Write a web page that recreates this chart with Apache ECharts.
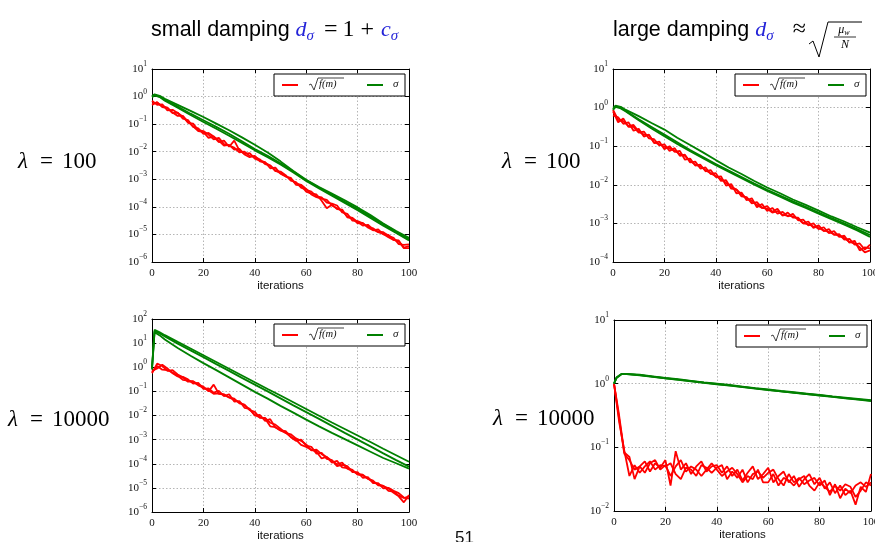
<!DOCTYPE html>
<html>
<head>
<meta charset="utf-8">
<script src="https://cdn.jsdelivr.net/npm/echarts@6/dist/echarts.min.js"></script>
<style>
  html, body { margin: 0; padding: 0; background: #fff; }
  #chart { width: 875px; height: 542px; }
</style>
</head>
<body>
<div id="chart"></div>
<script>
// Iteration numbers at which each run was sampled
const iterF = [0,2,4,6,8,10,12,14,16,18,20,22,24,26,28,30,32,34,36,38,40,42,44,46,48,50,
               52,54,56,58,60,62,64,66,68,70,72,74,76,78,80,82,84,86,88,90,92,94,96,98,100];
const iterSigma = [0,1,3,5,10,15,20,25,30,35,40,45,50,55,60,65,70,75,80,85,90,95,100];

// All values below are base-10 exponents (log10 of sqrt(f(m)) and of sigma)

// small damping, lambda = 100
const smallL100_f1 = [-0.15,-0.3,-0.28,-0.5,-0.48,-0.6,-0.72,-0.95,-0.98,-1.22,-1.25,-1.38,-1.55,-1.5,-1.72,-1.78,-1.85,-2.02,-2.0,-2.15,-2.18,-2.28,-2.45,-2.5,-2.7,-2.72,-2.85,-3.05,-3.1,-3.3,-3.38,-3.45,-3.62,-3.66,-3.85,-3.88,-3.95,-4.2,-4.25,-4.5,-4.52,-4.6,-4.72,-4.78,-4.9,-4.92,-5.05,-5.12,-5.35,-5.38,-5.36];
const smallL100_f2 = [-0.3,-0.2,-0.38,-0.42,-0.6,-0.58,-0.8,-0.85,-1.1,-1.15,-1.35,-1.32,-1.45,-1.65,-1.6,-1.82,-1.6,-1.95,-2.08,-2.05,-2.25,-2.32,-2.38,-2.6,-2.58,-2.8,-2.9,-2.95,-3.2,-3.22,-3.45,-3.52,-3.55,-3.78,-4.05,-3.92,-4.08,-4.1,-4.38,-4.42,-4.6,-4.58,-4.75,-4.85,-4.82,-5.0,-5.02,-5.2,-5.25,-5.48,-5.42];
const smallL100_f3 = [-0.25,-0.22,-0.35,-0.4,-0.58,-0.7,-0.7,-0.92,-1.08,-1.25,-1.28,-1.5,-1.45,-1.6,-1.78,-1.75,-1.92,-1.9,-2.1,-2.2,-2.15,-2.35,-2.4,-2.5,-2.68,-2.78,-2.88,-3.0,-3.15,-3.2,-3.35,-3.55,-3.65,-3.7,-3.75,-3.95,-4.05,-4.15,-4.35,-4.4,-4.55,-4.68,-4.65,-4.82,-4.92,-4.98,-5.1,-5.2,-5.22,-5.5,-5.5];
const smallL100_s1 = [0.02,0.08,0.03,-0.08,-0.3,-0.52,-0.74,-0.98,-1.22,-1.48,-1.75,-2.03,-2.35,-2.7,-3.02,-3.28,-3.52,-3.76,-4.02,-4.3,-4.6,-4.88,-5.12];
const smallL100_s2 = [0.0,0.05,0.0,-0.12,-0.36,-0.62,-0.86,-1.1,-1.35,-1.62,-1.9,-2.15,-2.42,-2.72,-3.04,-3.3,-3.56,-3.82,-4.08,-4.35,-4.62,-4.9,-5.18];
const smallL100_s3 = [-0.02,0.04,-0.02,-0.15,-0.4,-0.67,-0.92,-1.17,-1.42,-1.68,-1.95,-2.2,-2.46,-2.75,-3.06,-3.33,-3.6,-3.86,-4.12,-4.4,-4.68,-4.95,-5.22];

// large damping, lambda = 100
const largeL100_f1 = [-0.1,-0.38,-0.28,-0.5,-0.5,-0.65,-0.62,-0.8,-0.82,-0.98,-0.95,-1.12,-1.05,-1.25,-1.22,-1.42,-1.4,-1.58,-1.55,-1.72,-1.7,-1.9,-1.88,-2.1,-2.12,-2.3,-2.32,-2.48,-2.45,-2.6,-2.55,-2.7,-2.62,-2.8,-2.72,-2.85,-2.85,-3.0,-2.95,-3.12,-3.05,-3.2,-3.15,-3.3,-3.28,-3.42,-3.4,-3.55,-3.52,-3.68,-3.55];
const largeL100_f2 = [-0.2,-0.25,-0.42,-0.38,-0.6,-0.55,-0.75,-0.7,-0.92,-0.88,-1.08,-1.0,-1.15,-1.12,-1.35,-1.32,-1.5,-1.48,-1.65,-1.62,-1.8,-1.78,-2.02,-1.98,-2.22,-2.2,-2.4,-2.35,-2.58,-2.5,-2.68,-2.6,-2.75,-2.7,-2.82,-2.75,-2.92,-2.9,-3.05,-3.0,-3.15,-3.1,-3.25,-3.2,-3.35,-3.32,-3.5,-3.45,-3.7,-3.62,-3.65];
const largeL100_f3 = [-0.05,-0.32,-0.35,-0.48,-0.45,-0.62,-0.7,-0.72,-0.9,-0.95,-1.02,-1.05,-1.12,-1.2,-1.25,-1.38,-1.48,-1.52,-1.62,-1.7,-1.78,-1.85,-1.95,-2.05,-2.12,-2.25,-2.35,-2.42,-2.52,-2.6,-2.62,-2.72,-2.68,-2.78,-2.8,-2.82,-2.88,-3.0,-3.02,-3.08,-3.12,-3.18,-3.22,-3.28,-3.32,-3.38,-3.48,-3.52,-3.62,-3.75,-3.7];
const largeL100_s1 = [0.0,0.05,0.02,-0.06,-0.22,-0.4,-0.57,-0.78,-0.97,-1.16,-1.36,-1.55,-1.72,-1.9,-2.07,-2.22,-2.38,-2.52,-2.67,-2.82,-2.95,-3.1,-3.24];
const largeL100_s2 = [-0.04,0.03,0.0,-0.09,-0.3,-0.5,-0.7,-0.9,-1.1,-1.28,-1.46,-1.63,-1.8,-1.97,-2.13,-2.28,-2.43,-2.57,-2.72,-2.86,-3.0,-3.15,-3.3];
const largeL100_s3 = [-0.06,0.02,-0.02,-0.1,-0.33,-0.54,-0.74,-0.94,-1.13,-1.31,-1.49,-1.66,-1.83,-2.0,-2.16,-2.31,-2.46,-2.6,-2.75,-2.89,-3.03,-3.18,-3.35];

// small damping, lambda = 10000
const smallL10k_f1 = [-0.25,0.15,0.05,-0.15,-0.12,-0.3,-0.42,-0.6,-0.58,-0.72,-0.8,-1.0,-0.72,-1.1,-1.12,-1.25,-1.3,-1.5,-1.55,-1.78,-1.85,-2.1,-2.1,-2.3,-2.38,-2.55,-2.72,-2.78,-2.95,-3.05,-3.2,-3.45,-3.42,-3.6,-3.72,-3.88,-4.02,-3.95,-4.2,-4.3,-4.42,-4.45,-4.62,-4.7,-4.9,-4.92,-5.02,-5.2,-5.35,-5.6,-5.3];
const smallL10k_f2 = [-0.15,-0.05,0.1,-0.05,-0.25,-0.38,-0.4,-0.5,-0.68,-0.65,-0.9,-0.88,-1.05,-0.98,-1.2,-1.12,-1.42,-1.4,-1.68,-1.72,-2.0,-1.98,-2.22,-2.15,-2.5,-2.62,-2.65,-2.9,-3.05,-3.0,-3.25,-3.3,-3.58,-3.55,-3.8,-3.85,-4.1,-4.05,-4.1,-4.35,-4.35,-4.58,-4.55,-4.8,-4.8,-5.02,-5.0,-5.12,-5.22,-5.4,-5.45];
const smallL10k_f3 = [-0.2,0.05,-0.1,-0.12,-0.22,-0.35,-0.52,-0.55,-0.6,-0.75,-0.85,-0.95,-1.1,-1.08,-1.15,-1.25,-1.35,-1.45,-1.58,-1.75,-1.98,-2.08,-2.12,-2.45,-2.48,-2.62,-2.72,-2.88,-3.0,-3.22,-3.3,-3.42,-3.5,-3.78,-3.72,-3.95,-3.88,-4.15,-4.18,-4.25,-4.45,-4.48,-4.62,-4.75,-4.85,-4.92,-5.12,-5.15,-5.32,-5.42,-5.35];
const smallL10k_s1 = [0.0,1.55,1.45,1.33,1.05,0.78,0.5,0.22,-0.06,-0.34,-0.62,-0.9,-1.17,-1.45,-1.73,-2.01,-2.29,-2.56,-2.83,-3.1,-3.38,-3.65,-3.92];
const smallL10k_s2 = [-0.05,1.5,1.4,1.28,0.98,0.7,0.42,0.13,-0.15,-0.44,-0.72,-1.0,-1.29,-1.58,-1.86,-2.14,-2.43,-2.72,-3.0,-3.28,-3.57,-3.85,-4.12];
const smallL10k_s3 = [-0.1,1.45,1.32,1.15,0.8,0.48,0.17,-0.12,-0.42,-0.72,-1.02,-1.3,-1.6,-1.88,-2.17,-2.45,-2.72,-2.98,-3.24,-3.5,-3.76,-3.98,-4.2];

// large damping, lambda = 10000
const largeL10k_f1 = [0.0,-0.55,-1.1,-1.2,-1.35,-1.3,-1.22,-1.38,-1.25,-1.32,-1.2,-1.6,-1.06,-1.35,-1.25,-1.42,-1.3,-1.22,-1.38,-1.3,-1.28,-1.4,-1.3,-1.45,-1.35,-1.52,-1.4,-1.3,-1.5,-1.42,-1.32,-1.55,-1.45,-1.38,-1.55,-1.45,-1.62,-1.5,-1.42,-1.58,-1.48,-1.65,-1.55,-1.72,-1.6,-1.75,-1.68,-1.9,-1.62,-1.7,-1.42];
const largeL10k_f2 = [0.0,-0.6,-1.05,-1.45,-1.28,-1.4,-1.3,-1.22,-1.35,-1.28,-1.3,-1.25,-1.42,-1.5,-1.32,-1.35,-1.45,-1.28,-1.32,-1.4,-1.32,-1.28,-1.5,-1.38,-1.48,-1.35,-1.55,-1.42,-1.38,-1.48,-1.4,-1.35,-1.5,-1.6,-1.42,-1.55,-1.48,-1.58,-1.52,-1.48,-1.6,-1.52,-1.75,-1.58,-1.8,-1.65,-1.72,-1.6,-1.55,-1.62,-1.55];
const largeL10k_f3 = [0.0,-0.5,-1.08,-1.15,-1.5,-1.3,-1.4,-1.25,-1.2,-1.35,-1.28,-1.45,-1.3,-1.2,-1.38,-1.3,-1.35,-1.45,-1.35,-1.25,-1.35,-1.45,-1.38,-1.32,-1.42,-1.55,-1.45,-1.5,-1.35,-1.55,-1.55,-1.42,-1.6,-1.48,-1.52,-1.6,-1.5,-1.45,-1.6,-1.68,-1.55,-1.62,-1.7,-1.6,-1.68,-1.58,-1.62,-1.78,-1.68,-1.55,-1.6];
const largeL10k_s1 = [0.0,0.1,0.155,0.155,0.14,0.115,0.09,0.07,0.045,0.02,0.0,-0.02,-0.045,-0.07,-0.09,-0.115,-0.135,-0.155,-0.175,-0.2,-0.22,-0.24,-0.26];
const largeL10k_s2 = [0.0,0.09,0.15,0.15,0.135,0.11,0.085,0.062,0.04,0.015,-0.005,-0.028,-0.05,-0.075,-0.097,-0.12,-0.14,-0.162,-0.182,-0.205,-0.226,-0.247,-0.268];
const largeL10k_s3 = [0.0,0.095,0.152,0.15,0.132,0.108,0.082,0.06,0.036,0.012,-0.01,-0.032,-0.055,-0.078,-0.1,-0.122,-0.145,-0.165,-0.186,-0.208,-0.23,-0.25,-0.272];

// Decade range (exponents) of each panel's y axis
const yRange = [[-6, 1], [-4, 1], [-6, 2], [-2, 1]];
const xTicks = [0, 20, 40, 60, 80, 100];
const rowLambda = ['100', '100', '10000', '10000'];

const panels = [
  { f: [smallL100_f1, smallL100_f2, smallL100_f3], s: [smallL100_s1, smallL100_s2, smallL100_s3] },
  { f: [largeL100_f1, largeL100_f2, largeL100_f3], s: [largeL100_s1, largeL100_s2, largeL100_s3] },
  { f: [smallL10k_f1, smallL10k_f2, smallL10k_f3], s: [smallL10k_s1, smallL10k_s2, smallL10k_s3] },
  { f: [largeL10k_f1, largeL10k_f2, largeL10k_f3], s: [largeL10k_s1, largeL10k_s2, largeL10k_s3] }
];

// Plot boxes, in pixels
const boxes = [
  { left: 152, top: 69,  width: 257, height: 193 },
  { left: 613, top: 69,  width: 257, height: 193 },
  { left: 152, top: 319, width: 257, height: 193 },
  { left: 614, top: 320, width: 257, height: 191 }
];

const RED = '#ff0000';
const GREEN = '#008000';
const BLUE = '#2323d8';
const SERIF = 'Liberation Serif';
const SANS = 'Liberation Sans';

const grid = [], xAxis = [], yAxis = [], series = [];

function expLabel(v) {
  const e = Math.round(v);
  const s = e < 0 ? '\u2212' + (-e) : String(e);
  return '{b|10}{s|' + s + '}';
}

const frameLine = { show: true, onZero: false, lineStyle: { color: '#000', width: 1 } };
const dotted = { show: true, lineStyle: { color: '#b5b5b5', width: 1, type: [1.5, 2] } };
const tickIn = { show: true, inside: true, length: 4, lineStyle: { color: '#000', width: 1 } };

boxes.forEach((b, i) => {
  grid.push(Object.assign({ containLabel: false, outerBoundsMode: 'none' }, b));
  const xb = {
    type: 'value', gridIndex: i, position: 'bottom', min: 0, max: 100, interval: 20,
    axisLine: frameLine, axisTick: tickIn, splitLine: dotted,
    axisLabel: { color: '#111', fontFamily: SERIF, fontSize: 11, margin: 6,
                 formatter: v => (xTicks.indexOf(v) >= 0 ? String(v) : '') },
    name: 'iterations', nameLocation: 'middle', nameGap: 18,
    nameTextStyle: { color: '#111', fontFamily: SANS, fontSize: 11.5 }
  };
  const xt = {
    type: 'value', gridIndex: i, position: 'top', min: 0, max: 100, interval: 20,
    axisLine: frameLine, axisTick: tickIn, splitLine: { show: false }, axisLabel: { show: false }
  };
  xAxis.push(xb, xt);
  const yl = {
    type: 'value', gridIndex: i, position: 'left', min: yRange[i][0], max: yRange[i][1], interval: 1,
    axisLine: frameLine, axisTick: tickIn, splitLine: dotted,
    axisLabel: {
      margin: 5, formatter: expLabel,
      rich: {
        b: { fontFamily: SERIF, fontSize: 11, color: '#111', lineHeight: 18 },
        s: { fontFamily: SERIF, fontSize: 7.5, color: '#111', lineHeight: 9, verticalAlign: 'top' }
      }
    }
  };
  const yr = {
    type: 'value', gridIndex: i, position: 'right', min: yRange[i][0], max: yRange[i][1], interval: 1,
    axisLine: frameLine, axisTick: tickIn, splitLine: { show: false }, axisLabel: { show: false }
  };
  yAxis.push(yl, yr);

  panels[i].f.forEach(arr => series.push({
    type: 'line', xAxisIndex: 2 * i, yAxisIndex: 2 * i, silent: true,
    symbol: 'none', lineStyle: { color: RED, width: 1.8 },
    data: iterF.map((x, k) => [x, arr[k]])
  }));
  panels[i].s.forEach(arr => series.push({
    type: 'line', xAxisIndex: 2 * i, yAxisIndex: 2 * i, silent: true,
    symbol: 'none', lineStyle: { color: GREEN, width: 1.8 },
    data: iterSigma.map((x, k) => [x, arr[k]])
  }));
});

// Legend box inside the upper-right corner of each plot
function legendBox(b) {
  const L = b.left + b.width - 135;
  const T = b.top;
  return [
    { type: 'rect', z: 50, shape: { x: L, y: T + 5, width: 131, height: 22 },
      style: { fill: '#fff', stroke: '#000', lineWidth: 1 } },
    { type: 'line', z: 51, shape: { x1: L + 8, y1: T + 16, x2: L + 24, y2: T + 16 },
      style: { stroke: RED, lineWidth: 2 } },
    { type: 'polyline', z: 51, shape: { points: [[L + 35, T + 16], [L + 37, T + 15], [L + 40, T + 21], [L + 44, T + 9], [L + 70, T + 9]] },
      style: { stroke: '#111', lineWidth: 0.8, fill: null } },
    { type: 'text', z: 51, style: { x: L + 45, y: T + 15.5, text: 'f(m)', fill: '#111',
      font: 'italic 10.5px "' + SERIF + '"', verticalAlign: 'middle', align: 'left' } },
    { type: 'line', z: 51, shape: { x1: L + 93, y1: T + 16, x2: L + 109, y2: T + 16 },
      style: { stroke: GREEN, lineWidth: 2 } },
    { type: 'text', z: 51, style: { x: L + 119, y: T + 15, text: 'σ', fill: '#111',
      font: 'italic 11px "' + SERIF + '"', verticalAlign: 'middle', align: 'left' } }
  ];
}

const graphic = [];
boxes.forEach(b => legendBox(b).forEach(g => graphic.push(g)));

// Column headings
const headRich = {
  t: { fontFamily: SANS, fontSize: 21.5, fill: '#000', lineHeight: 28, padding: [0, 6, 0, 0] },
  m: { fontFamily: SERIF, fontStyle: 'italic', fontSize: 22, fill: BLUE, lineHeight: 28 },
  u: { fontFamily: SERIF, fontStyle: 'italic', fontSize: 15, fill: BLUE, lineHeight: 18, verticalAlign: 'bottom' },
  eq: { fontFamily: SERIF, fontSize: 24, fill: '#000', lineHeight: 28, padding: [0, 5, 0, 10] },
  one: { fontFamily: SERIF, fontSize: 24, fill: '#000', lineHeight: 28, padding: [0, 6, 0, 0] },
  pl: { fontFamily: SERIF, fontSize: 24, fill: '#000', lineHeight: 28, padding: [0, 7, 0, 0] },
  ap: { fontFamily: SERIF, fontSize: 24, fill: '#000', lineHeight: 28, padding: [0, 0, 0, 19] }
};
graphic.push({ type: 'text', style: { x: 151, y: 30, align: 'left', verticalAlign: 'middle',
  text: '{t|small damping}{m|d}{u|σ}{eq|=}{one|1}{pl|+}{m|c}{u|σ}', rich: headRich } });
graphic.push({ type: 'text', style: { x: 613, y: 30, align: 'left', verticalAlign: 'middle',
  text: '{t|large damping}{m|d}{u|σ}{ap|≈}', rich: headRich } });
graphic.push({ type: 'polyline', shape: { points: [[809, 44], [813, 41], [819, 57], [828, 22], [862, 22]] },
  style: { stroke: '#000', lineWidth: 1, fill: null } });
graphic.push({ type: 'text', style: { x: 844, y: 30, align: 'center', verticalAlign: 'middle',
  text: '{m|μ}{u|w}', rich: {
    m: { fontFamily: SERIF, fontStyle: 'italic', fontSize: 12, fill: '#000', lineHeight: 14 },
    u: { fontFamily: SERIF, fontStyle: 'italic', fontSize: 8, fill: '#000', lineHeight: 9, verticalAlign: 'bottom' } } } });
graphic.push({ type: 'line', shape: { x1: 834, y1: 37, x2: 856, y2: 37 }, style: { stroke: '#000', lineWidth: 0.8 } });
graphic.push({ type: 'text', style: { x: 845, y: 45, align: 'center', verticalAlign: 'middle',
  text: 'N', fill: '#000', font: 'italic 12px "' + SERIF + '"' } });

// Row labels
const rowPos = [[18, 162], [502, 162], [8, 420], [493, 419]];
rowPos.forEach((p, i) => {
  graphic.push({ type: 'text', style: { x: p[0], y: p[1], align: 'left', verticalAlign: 'middle',
    text: '{l|λ}{e|=}{r|' + rowLambda[i] + '}', rich: {
      l: { fontFamily: SERIF, fontStyle: 'italic', fontSize: 23, fill: '#000' },
      e: { fontFamily: SERIF, fontSize: 23, fill: '#000', padding: [0, 9, 0, 12] },
      r: { fontFamily: SERIF, fontSize: 23, fill: '#000' } } } });
});

// Page number
graphic.push({ type: 'text', style: { x: 455, y: 530, align: 'left', verticalAlign: 'top',
  text: '51', fill: '#111', font: '17px "' + SANS + '"' } });

const chart = echarts.init(document.getElementById('chart'), null, { renderer: 'canvas' });
chart.setOption({
  animation: false,
  backgroundColor: '#fff',
  grid, xAxis, yAxis, series, graphic
});
</script>
</body>
</html>
